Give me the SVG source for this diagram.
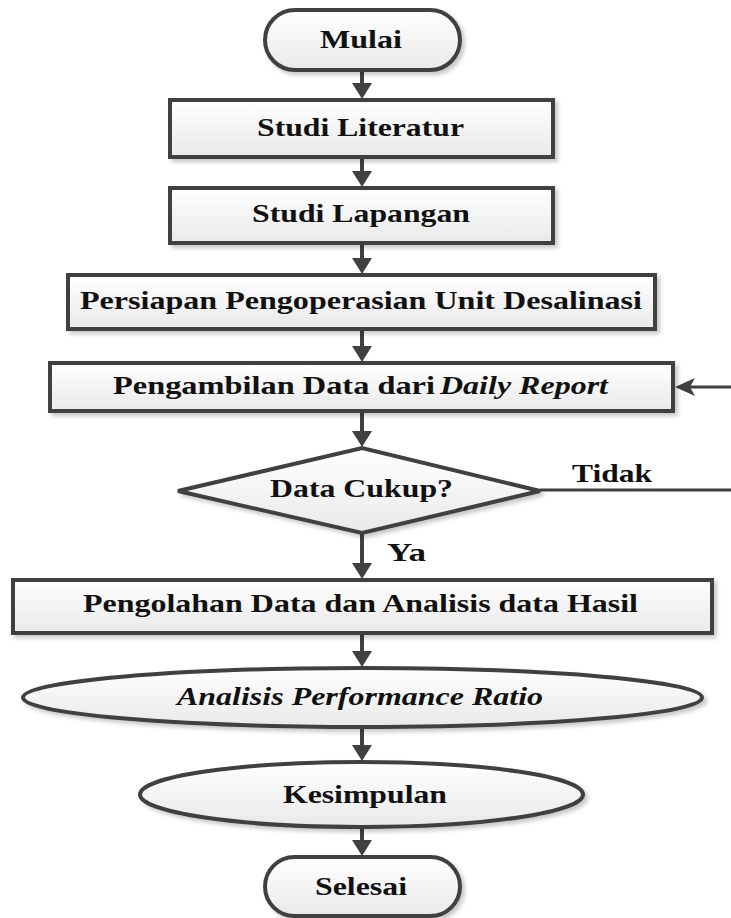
<svg xmlns="http://www.w3.org/2000/svg" width="731" height="918" viewBox="0 0 731 918">
<style>
  .shape { fill: url(#fillGrad); stroke: #404040; stroke-width: 4; filter: url(#shadow); }
  .lbl { font-family: "Liberation Serif", "Times New Roman", serif; font-size: 26px; font-weight: bold; fill: #111; }
  .it { font-style: italic; }
  .conn { stroke: #404040; stroke-width: 4; fill: none; }
  .thin { stroke: #404040; stroke-width: 3; fill: none; }
</style>
<defs>
  <linearGradient id="fillGrad" x1="0" y1="0" x2="0" y2="1">
    <stop offset="0" stop-color="#ffffff"/>
    <stop offset="1" stop-color="#e9e9e9"/>
  </linearGradient>
  <filter id="shadow" x="-10%" y="-20%" width="120%" height="150%">
    <feDropShadow dx="3" dy="3" stdDeviation="2" flood-color="#000" flood-opacity="0.22"/>
  </filter>
  <marker id="arrowV" viewBox="0 0 16 20" refX="8" refY="10" markerWidth="16" markerHeight="20" markerUnits="userSpaceOnUse" orient="auto">
    <path d="M0,0 L16,10 L0,20 Z" fill="#404040"/>
  </marker>
  <marker id="arrowH" viewBox="0 0 20 18" refX="8" refY="9" markerWidth="20" markerHeight="18" markerUnits="userSpaceOnUse" orient="auto">
    <path d="M0,0 L20,9 L0,18 L5,9 Z" fill="#404040"/>
  </marker>
</defs>

<g id="connectors">
  <line class="conn" x1="362" y1="70" x2="362" y2="91" marker-end="url(#arrowV)"/>
  <line class="conn" x1="362" y1="157" x2="362" y2="179" marker-end="url(#arrowV)"/>
  <line class="conn" x1="362" y1="243" x2="362" y2="266" marker-end="url(#arrowV)"/>
  <line class="conn" x1="362" y1="329" x2="362" y2="354" marker-end="url(#arrowV)"/>
  <line class="conn" x1="362" y1="411" x2="362" y2="439" marker-end="url(#arrowV)"/>
  <line class="conn" x1="362" y1="533" x2="362" y2="571" marker-end="url(#arrowV)"/>
  <line class="conn" x1="362" y1="633" x2="362" y2="659" marker-end="url(#arrowV)"/>
  <line class="conn" x1="362" y1="727" x2="362" y2="753" marker-end="url(#arrowV)"/>
  <line class="conn" x1="362" y1="827" x2="362" y2="848" marker-end="url(#arrowV)"/>
  <line class="thin" x1="540" y1="490" x2="731" y2="490"/>
  <line class="thin" x1="731" y1="387" x2="687" y2="387" marker-end="url(#arrowH)"/>
  <text class="lbl" x="572" y="482" textLength="80" lengthAdjust="spacingAndGlyphs">Tidak</text>
  <text class="lbl" x="387" y="561" textLength="39" lengthAdjust="spacingAndGlyphs">Ya</text>
</g>

<g id="mulai">
  <rect class="shape" x="265" y="10" width="195" height="60" rx="30" ry="30"/>
  <text class="lbl" x="320" y="48" textLength="82" lengthAdjust="spacingAndGlyphs">Mulai</text>
</g>
<g id="studi-literatur">
  <rect class="shape" x="170" y="100" width="383" height="57"/>
  <text class="lbl" x="257" y="136" textLength="207" lengthAdjust="spacingAndGlyphs">Studi Literatur</text>
</g>
<g id="studi-lapangan">
  <rect class="shape" x="170" y="188" width="383" height="55"/>
  <text class="lbl" x="252" y="222" textLength="218" lengthAdjust="spacingAndGlyphs">Studi Lapangan</text>
</g>
<g id="persiapan">
  <rect class="shape" x="68" y="275" width="587" height="54"/>
  <text class="lbl" x="80" y="309" textLength="562" lengthAdjust="spacingAndGlyphs">Persiapan Pengoperasian Unit Desalinasi</text>
</g>
<g id="pengambilan">
  <rect class="shape" x="50" y="363" width="623" height="48"/>
  <text class="lbl" x="113" y="394" textLength="322" lengthAdjust="spacingAndGlyphs">Pengambilan Data dari</text>
  <text class="lbl it" x="440" y="394" textLength="168" lengthAdjust="spacingAndGlyphs">Daily Report</text>
</g>
<g id="data-cukup">
  <polygon class="shape" points="178,491 362,448 540,491 362,533"/>
  <text class="lbl" x="270" y="497" textLength="183" lengthAdjust="spacingAndGlyphs">Data Cukup?</text>
</g>
<g id="pengolahan">
  <rect class="shape" x="13" y="580" width="699" height="53"/>
  <text class="lbl" x="83" y="612" textLength="555" lengthAdjust="spacingAndGlyphs">Pengolahan Data dan Analisis data Hasil</text>
</g>
<g id="analisis-pr">
  <ellipse class="shape" cx="362.5" cy="697.5" rx="339.5" ry="29.5"/>
  <text class="lbl it" x="177" y="705" textLength="366" lengthAdjust="spacingAndGlyphs">Analisis Performance Ratio</text>
</g>
<g id="kesimpulan">
  <ellipse class="shape" cx="361.5" cy="794.5" rx="221.5" ry="32.5"/>
  <text class="lbl" x="283" y="803" textLength="164" lengthAdjust="spacingAndGlyphs">Kesimpulan</text>
</g>
<g id="selesai">
  <rect class="shape" x="265" y="857" width="195" height="59" rx="29.5" ry="29.5"/>
  <text class="lbl" x="315" y="895" textLength="92" lengthAdjust="spacingAndGlyphs">Selesai</text>
</g>
</svg>
